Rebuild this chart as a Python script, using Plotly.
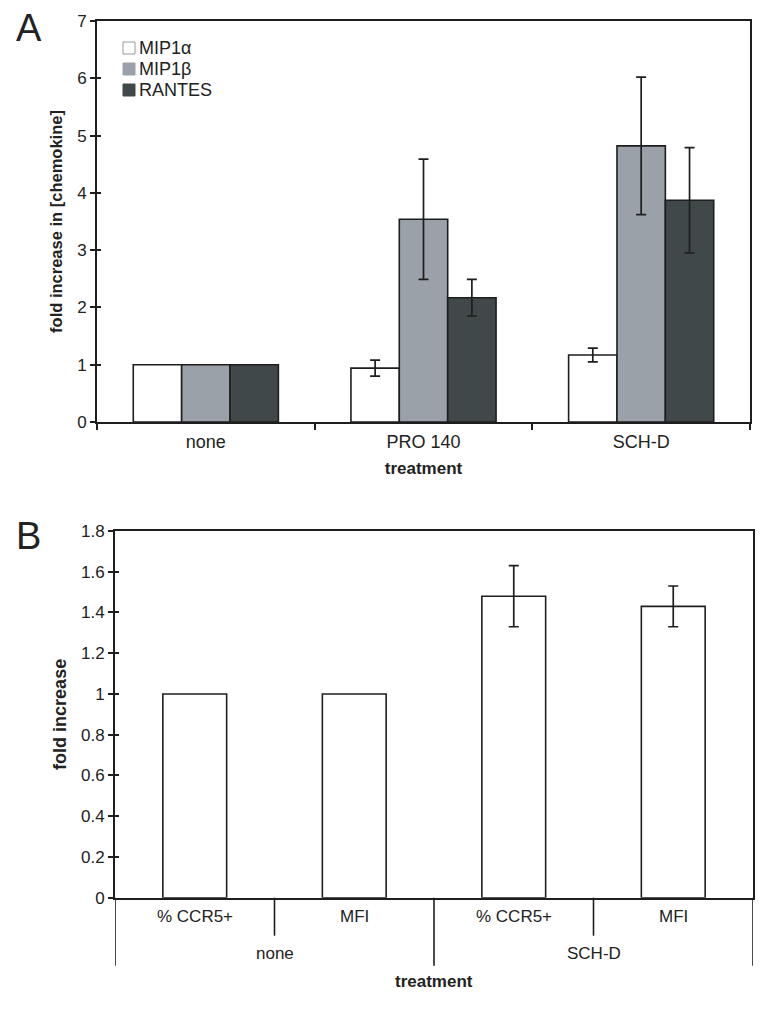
import plotly.graph_objects as go

# Panel A data
treatments_a = ["none", "PRO 140", "SCH-D"]
series_names = ["MIP1α", "MIP1β", "RANTES"]
series_colors = ["#ffffff", "#9ba1a8", "#414849"]
legend_edges = ["#9a9a9a", "#9ba1a8", "#414849"]
mip1a = [1.0, 0.94, 1.17]
mip1a_err = [None, 0.14, 0.12]
mip1b = [1.0, 3.54, 4.82]
mip1b_err = [None, 1.05, 1.20]
rantes = [1.0, 2.17, 3.87]
rantes_err = [None, 0.32, 0.92]

# Panel B data
outer_b = ["none", "none", "SCH-D", "SCH-D"]
inner_b = ["% CCR5+", "MFI", "% CCR5+", "MFI"]
fold_b = [1.0, 1.0, 1.48, 1.43]
fold_b_err = [None, None, 0.15, 0.10]

FONT = "Liberation Sans, Arial, sans-serif"
LINE = "#1e1e1e"
TXT = "#222222"

fig = go.Figure()

def eb(arr):
    # missing errors -> no error bar drawn (plotly.js skips non-numeric)
    vals = ["NaN" if v is None else v for v in arr]
    return dict(type="data", array=vals, color=LINE, thickness=1.7, width=5, visible=True)

for name, vals, errs, col in zip(series_names, [mip1a, mip1b, rantes],
                                 [mip1a_err, mip1b_err, rantes_err], series_colors):
    fig.add_trace(go.Bar(x=treatments_a, y=vals, error_y=eb(errs), name=name, showlegend=False,
                         marker=dict(color=col, line=dict(color=LINE, width=1.6)),
                         xaxis="x", yaxis="y"))

idx_b = list(range(len(inner_b)))
fig.add_trace(go.Bar(x=idx_b, y=fold_b, error_y=eb(fold_b_err), showlegend=False,
                     marker=dict(color="#ffffff", line=dict(color=LINE, width=1.6)),
                     xaxis="x2", yaxis="y2", width=0.4))

# empty helper traces so that the inner-tick overlay axes are drawn
fig.add_trace(go.Scatter(x=[], y=[], xaxis="x", yaxis="y3", showlegend=False, hoverinfo="skip"))
fig.add_trace(go.Scatter(x=[], y=[], xaxis="x2", yaxis="y4", showlegend=False, hoverinfo="skip"))

axis_common = dict(showline=True, linecolor=LINE, linewidth=2, mirror=True,
                   showgrid=False, zeroline=False, ticks="outside", tickcolor=LINE,
                   tickwidth=1.6, tickfont=dict(family=FONT, size=17, color=TXT))

annotations = [
    dict(text="A", x=14/776, y=1 - 5/1012, xref="paper", yref="paper", xanchor="left", yanchor="top",
         showarrow=False, font=dict(family=FONT, size=38, color=TXT)),
    dict(text="B", x=14/776, y=1 - 513/1012, xref="paper", yref="paper", xanchor="left", yanchor="top",
         showarrow=False, font=dict(family=FONT, size=38, color=TXT)),
    dict(text="<b>treatment</b>", x=0.5, xref="x2 domain", y=0, yref="y2 domain", yanchor="middle",
         yshift=-84, showarrow=False, font=dict(family=FONT, size=17, color=TXT)),
]
shapes = []

# manual legend (compact, as in the reference)
for k, (name, col, edge) in enumerate(zip(series_names, series_colors, legend_edges)):
    yc = 48 + 21 * k
    shapes.append(dict(type="rect", xref="paper", yref="paper",
                       x0=123/776, x1=135/776, y0=1 - (yc + 6)/1012, y1=1 - (yc - 6)/1012,
                       fillcolor=col, line=dict(color=edge, width=1)))
    annotations.append(dict(text=name, x=137/776, y=1 - yc/1012, xref="paper", yref="paper",
                            xanchor="left", yanchor="middle", showarrow=False,
                            font=dict(family=FONT, size=18, color=TXT)))

# panel B category labels and separators
for i, lab in enumerate(inner_b):
    annotations.append(dict(text=lab, x=i, xref="x2", y=0, yref="y2 domain", yanchor="middle",
                            yshift=-19, showarrow=False, font=dict(family=FONT, size=17, color=TXT)))
groups = []
for i, g in enumerate(outer_b):
    if not groups or groups[-1][0] != g:
        groups.append([g, i, i])
    else:
        groups[-1][2] = i
H_B = 897.7 - 531
for g, a, b in groups:
    annotations.append(dict(text=g, x=(a + b) / 2, xref="x2", y=0, yref="y2 domain", yanchor="middle",
                            yshift=-56, showarrow=False, font=dict(family=FONT, size=17, color=TXT)))
    for k in range(a, b):
        shapes.append(dict(type="line", xref="x2", yref="y2 domain", x0=k + 0.5, x1=k + 0.5,
                           y0=0, y1=-38 / H_B, line=dict(color=LINE, width=1.6)))
bounds = [-0.5] + [b + 0.5 for _, _, b in groups]
for xb in bounds:
    shapes.append(dict(type="line", xref="x2", yref="y2 domain", x0=xb, x1=xb,
                       y0=0, y1=-68 / H_B, line=dict(color=LINE, width=1.6)))

dom_a = [1 - 422/1012, 1 - 21/1012]
dom_b = [1 - 897.7/1012, 1 - 531/1012]
inner_ticks = dict(showline=False, showgrid=False, zeroline=False, ticks="inside", ticklen=4,
                   tickcolor=LINE, tickwidth=1.6, showticklabels=False, automargin=False,
                   side="left")

fig.update_layout(
    width=776, height=1012,
    margin=dict(l=0, r=0, t=0, b=0, pad=0, autoexpand=False),
    paper_bgcolor="white", plot_bgcolor="white",
    barmode="group", bargap=1/3, bargroupgap=0,
    font=dict(family=FONT, color=TXT),
    showlegend=False,
    xaxis=dict(axis_common, domain=[97/776, 750/776], anchor="y", type="category",
               tickson="boundaries", ticklen=6, range=[-0.5, 2.5], ticklabelstandoff=2,
               tickfont=dict(family=FONT, size=18, color=TXT), automargin=False,
               title=dict(text="<b>treatment</b>", font=dict(family=FONT, size=17), standoff=12)),
    yaxis=dict(axis_common, domain=dom_a, anchor="x", range=[0, 7],
               dtick=1, ticklen=5, automargin=False,
               title=dict(text="<b>fold increase in [chemokine]</b>", font=dict(family=FONT, size=16.5), standoff=10)),
    yaxis3=dict(inner_ticks, overlaying="y", anchor="x", range=[0, 7], dtick=1),
    xaxis2=dict(axis_common, domain=[115/776, 753/776], anchor="y2", range=[-0.5, 3.5],
                showticklabels=False, ticks="", automargin=False),
    yaxis2=dict(axis_common, domain=dom_b, anchor="x2", range=[0, 1.8],
                dtick=0.2, ticklen=5, automargin=False,
                title=dict(text="<b>fold increase</b>", font=dict(family=FONT, size=18), standoff=10)),
    yaxis4=dict(inner_ticks, overlaying="y2", anchor="x2", range=[0, 1.8], dtick=0.2),
    annotations=annotations,
    shapes=shapes,
)

fig.write_html("out.html", config={"displayModeBar": False},
               post_script="document.body.style.margin='0';document.body.style.overflow='hidden';")
